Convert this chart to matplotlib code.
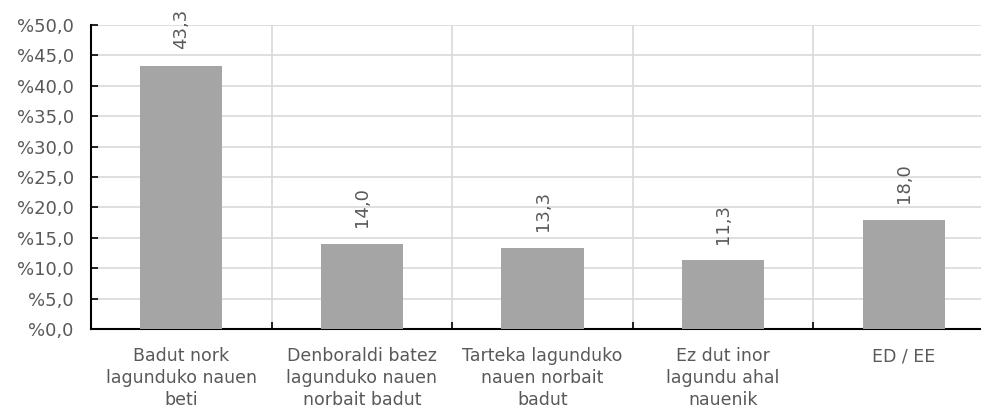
import matplotlib
matplotlib.use("Agg")
import matplotlib.pyplot as plt
import numpy as np

categories = ["Badut nork\nlagunduko nauen\nbeti",
              "Denboraldi batez\nlagunduko nauen\nnorbait badut",
              "Tarteka lagunduko\nnauen norbait\nbadut",
              "Ez dut inor\nlagundu ahal\nnauenik",
              "ED / EE"]
values = [43.3, 14.0, 13.3, 11.3, 18.0]
yticks = [0, 5, 10, 15, 20, 25, 30, 35, 40, 45, 50]

plt.rcParams['font.family'] = ['DejaVu Sans']
TXT = '#595959'
W, H = 981, 409
fig = plt.figure(figsize=(W/100, H/100), dpi=100)
left, right, top, bottom = 91, 994, 25, 329
ax = fig.add_axes([left/W, 1-bottom/H, (right-left)/W, (bottom-top)/H])

x = np.arange(len(categories))
ax.bar(x, values, width=0.455, color='#a5a5a5', zorder=3)
ax.set_xlim(-0.5, len(categories)-0.5)
ax.set_ylim(0, 50)
ax.set_yticks(yticks)
ax.set_yticklabels(["%{:.1f}".format(v).replace('.', ',') for v in yticks])
ax.set_xticks(x)
ax.set_xticklabels(categories, linespacing=1.3)
ax.set_xticks(np.arange(len(categories)+1)-0.5, minor=True)

ax.grid(axis='y', color='#d9d9d9', linewidth=1.2, zorder=0)
ax.grid(axis='x', which='minor', color='#d9d9d9', linewidth=1.2, zorder=0)
ax.tick_params(axis='x', which='major', length=0, pad=13, labelsize=12.5, labelcolor=TXT)
ax.tick_params(axis='x', which='minor', length=5, direction='in', width=1.2, color='black')
ax.tick_params(axis='y', length=5, direction='in', width=1.2, color='black', pad=12.5,
               labelsize=13, labelcolor=TXT)
for s in ['top', 'right']:
    ax.spines[s].set_visible(False)
for s in ['left', 'bottom']:
    ax.spines[s].set_linewidth(1.5)
    ax.spines[s].set_color('black')

for xi, v in zip(x, values):
    ax.annotate("{:.1f}".format(v).replace('.', ','), (xi, v), xytext=(0, 12),
                textcoords='offset points', rotation=90, ha='center', va='bottom',
                fontsize=13, color=TXT)

fig.savefig("out.png", dpi=100)
